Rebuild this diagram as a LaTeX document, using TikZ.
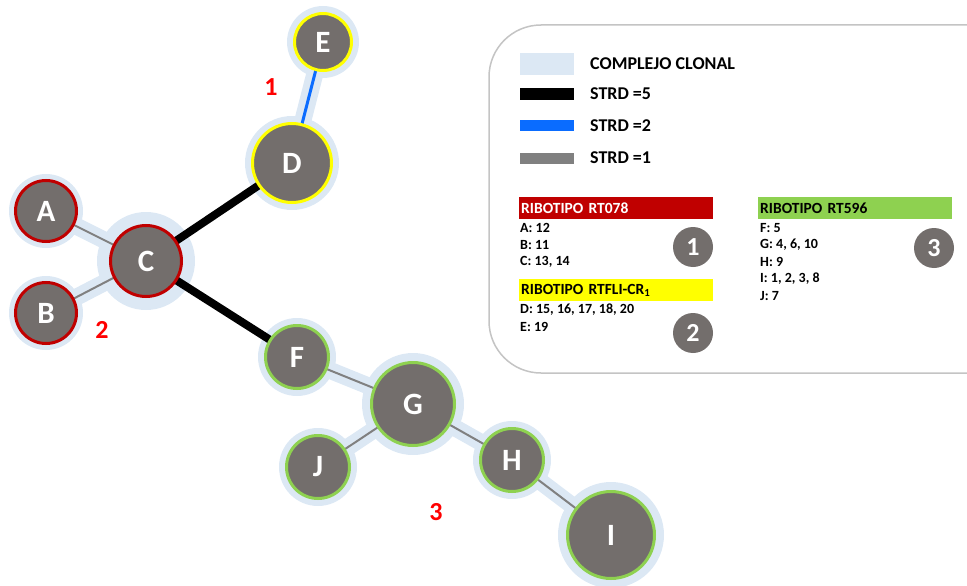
\documentclass[tikz,border=0pt]{standalone}
\usepackage{fontspec}
\setmainfont{Carlito}
\definecolor{halo}{HTML}{DCE8F4}
\definecolor{nodegray}{HTML}{736E6C}
\definecolor{rtred}{HTML}{C00000}
\definecolor{rtyellow}{HTML}{FFFF00}
\definecolor{rtgreen}{HTML}{8ED150}
\definecolor{strdblue}{HTML}{0A6CFF}
\definecolor{strdgray}{HTML}{808080}
\definecolor{boxgray}{HTML}{C4C4C4}
\begin{document}
\begin{tikzpicture}[x=1pt,y=-1pt,
  nd/.style={circle, fill=nodegray, line width=3pt, text=white, inner sep=0pt,
    font=\bfseries\fontsize{31}{31}\selectfont},
  redb/.style={nd, draw=rtred},
  yelb/.style={nd, draw=rtyellow},
  grnb/.style={nd, draw=rtgreen},
  band/.style={draw=halo, line width=17pt, line cap=round},
  e1/.style={draw=strdgray, line width=2pt},
  e5/.style={draw=black, line width=8pt},
  e2/.style={draw=strdblue, line width=3pt},
  grp/.style={text=red, font=\bfseries\fontsize{26}{26}\selectfont},
  leg/.style={anchor=west, inner sep=0pt, font=\bfseries\fontsize{18}{18}\selectfont},
  bar/.style={anchor=west, inner xsep=2pt, inner ysep=0pt, text width=190pt, minimum height=22pt,
    font=\bfseries\fontsize{15.5}{15.5}\selectfont},
  ln/.style={anchor=west, inner sep=0pt, font=\bfseries\fontsize{14}{14}\selectfont},
  numc/.style={circle, fill=nodegray, minimum size=40pt, inner sep=0pt, text=white,
    font=\bfseries\fontsize{26}{26}\selectfont}
]
\useasboundingbox (0,0) rectangle (967,586);

% legend box
\begin{scope}
\clip (0,0) rectangle (967,586);
\draw[boxgray, line width=1.5pt, fill=white, rounded corners=52pt] (489,25) rectangle (1030,373);
\end{scope}

% coordinates
\coordinate (pE) at (323,42);
\coordinate (pD) at (292,163);
\coordinate (pA) at (46,211);
\coordinate (pB) at (46,313);
\coordinate (pC) at (146,261);
\coordinate (pF) at (297,357);
\coordinate (pG) at (413,404);
\coordinate (pJ) at (318,467);
\coordinate (pH) at (512,460);
\coordinate (pI) at (611,535);

% halos
\draw[band] (pE) -- (pD);
\draw[band] (pA) -- (pC) -- (pB);
\draw[band] (pF) -- (pG) -- (pH) -- (pI);
\draw[band] (pG) -- (pJ);
\fill[halo] (pE) circle (36);
\fill[halo] (pD) circle (47);
\fill[halo] (pA) circle (37);
\fill[halo] (pB) circle (37);
\fill[halo] (pC) circle (49);
\fill[halo] (pF) circle (39);
\fill[halo] (pG) circle (51);
\fill[halo] (pJ) circle (39);
\fill[halo] (pH) circle (39);
\fill[halo] (pI) circle (53);

% edges
\draw[e2] (pE) -- (pD);
\draw[e5] (pC) -- (pD);
\draw[e5] (pC) -- (pF);
\draw[e1] (pA) -- (pC);
\draw[e1] (pB) -- (pC);
\draw[e1] (pF) -- (pG);
\draw[e1] (pG) -- (pJ);
\draw[e1] (pG) -- (pH);
\draw[e1] (pH) -- (pI);

% nodes
\node[yelb, minimum size=57pt] (E) at (pE) {E};
\node[yelb, minimum size=79pt] (D) at (pD) {D};
\node[redb, minimum size=61pt] (A) at (pA) {A};
\node[redb, minimum size=61pt] (B) at (pB) {B};
\node[redb, minimum size=71pt] (C) at (pC) {C};
\node[grnb, minimum size=63pt] (F) at (pF) {F};
\node[grnb, minimum size=83pt] (G) at (pG) {G};
\node[grnb, minimum size=63pt] (J) at (pJ) {J};
\node[grnb, minimum size=63pt] (H) at (pH) {H};
\node[grnb, minimum size=87pt] (I) at (pI) {I};

% group labels
\node[grp] (g1) at (271,87) {1};
\node[grp] (g2) at (102,330) {2};
\node[grp] (g3) at (436,512) {3};

% legend symbols
\fill[halo] (520,53) rectangle (574,75);
\fill[black] (520,88) rectangle (574,100);
\fill[strdblue] (520,120) rectangle (574,131);
\fill[strdgray] (520,153) rectangle (574,164);
\node[leg] (l0) at (590,64) {COMPLEJO CLONAL};
\node[leg] (l5) at (590,94) {STRD =5};
\node[leg] (l2) at (590,126) {STRD =2};
\node[leg] (l1) at (590,158) {STRD =1};

% ribotipo blocks
\node[bar, fill=rtred, text=white] (r1) at (519,208) {RIBOTIPO RT078};
\node[ln] (a1) at (520,228) {A: 12};
\node[ln] (b1) at (520,245) {B: 11};
\node[ln] (c1) at (520,262) {C: 13, 14};
\node[numc] (n1) at (693,247) {1};

\node[bar, fill=rtyellow, text=black] (r2) at (519,290) {RIBOTIPO RTFLI-CR$_{\mathbf{1}}$};
\node[ln] (d2) at (520,310) {D: 15, 16, 17, 18, 20};
\node[ln] (e2) at (520,327) {E: 19};
\node[numc] (n2) at (693,333) {2};

\node[bar, fill=rtgreen, text=black] (r3) at (758,208) {RIBOTIPO RT596};
\node[ln] (f3) at (760,228) {F: 5};
\node[ln] (g3l) at (760,245) {G: 4, 6, 10};
\node[ln] (h3) at (760,262) {H: 9};
\node[ln] (i3) at (760,279) {I: 1, 2, 3, 8};
\node[ln] (j3) at (760,296) {J: 7};
\node[numc] (n3) at (934,248) {3};
\end{tikzpicture}
\end{document}
